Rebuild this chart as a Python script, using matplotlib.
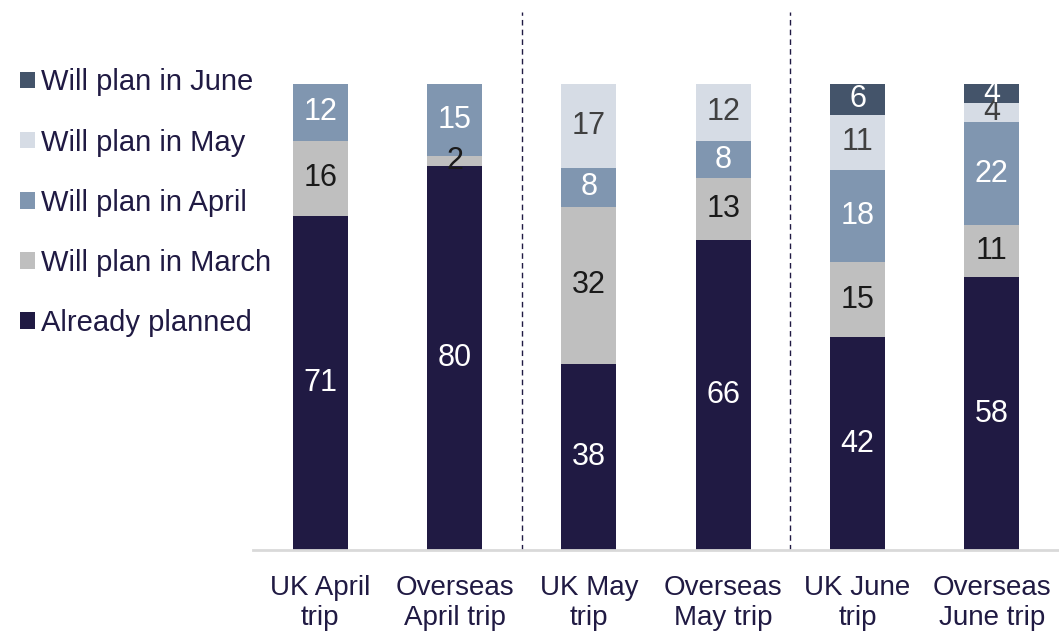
import matplotlib.pyplot as plt
import numpy as np

plt.rcParams['font.family'] = ['Liberation Sans', 'DejaVu Sans']

trips = ['UK April\ntrip', 'Overseas\nApril trip', 'UK May\ntrip',
         'Overseas\nMay trip', 'UK June\ntrip', 'Overseas\nJune trip']
series = ['Already planned', 'Will plan in March', 'Will plan in April',
          'Will plan in May', 'Will plan in June']
already = [71, 80, 38, 66, 42, 58]
march = [16, 2, 32, 13, 15, 11]
april = [12, 15, 8, 8, 18, 22]
may = [0, 0, 17, 12, 11, 4]
june = [0, 0, 0, 0, 6, 4]

colors = ['#201a43', '#bfbfbf', '#8096b0', '#d6dce5', '#44546a']
label_colors = ['white', '#1a1a1a', 'white', '#404040', 'white']
navy = '#201a43'

data = np.array([already, march, april, may, june], dtype=float)
totals = data.sum(axis=0)
pct = data / totals * 100

fig = plt.figure(figsize=(10.59, 6.31), dpi=100)
ax = fig.add_axes([0.239, 0.128, 0.761, 0.7385])

x = np.arange(len(trips))
bottom = np.zeros(len(trips))
for i, name in enumerate(series):
    bars = ax.bar(x, pct[i], 0.41, bottom=bottom, color=colors[i], label=name)
    for j, b in enumerate(bars):
        if data[i][j] > 0:
            ax.text(b.get_x() + b.get_width() / 2, bottom[j] + pct[i][j] / 2,
                    str(int(data[i][j])), ha='center', va='center',
                    fontsize=22, color=label_colors[i])
    bottom += pct[i]

ax.set_xlim(-0.5, len(trips) - 0.5)
ax.set_ylim(0, 100)
ax.set_yticks([])
ax.set_xticks(x)
ax.set_xticklabels(trips, fontsize=20, color=navy)
ax.tick_params(axis='x', length=0, pad=18)
for s in ['top', 'right', 'left']:
    ax.spines[s].set_visible(False)
ax.spines['bottom'].set_color('#d9d9d9')
ax.spines['bottom'].set_linewidth(2)

for xv in [1.5, 3.5]:
    ax.plot([xv, xv], [0, 1.155], transform=ax.get_xaxis_transform(),
            color='#201a43', lw=1, ls=(0, (4, 3)), clip_on=False)

handles, labels = ax.get_legend_handles_labels()
leg = fig.legend(handles[::-1], labels[::-1], loc='upper left',
                 bbox_to_anchor=(0.008, 0.91), frameon=False, fontsize=21,
                 handlelength=0.5, handleheight=0.5, handletextpad=0.2,
                 labelspacing=1.1, borderaxespad=0)
for t in leg.get_texts():
    t.set_color(navy)

fig.savefig('out.png', dpi=100)
